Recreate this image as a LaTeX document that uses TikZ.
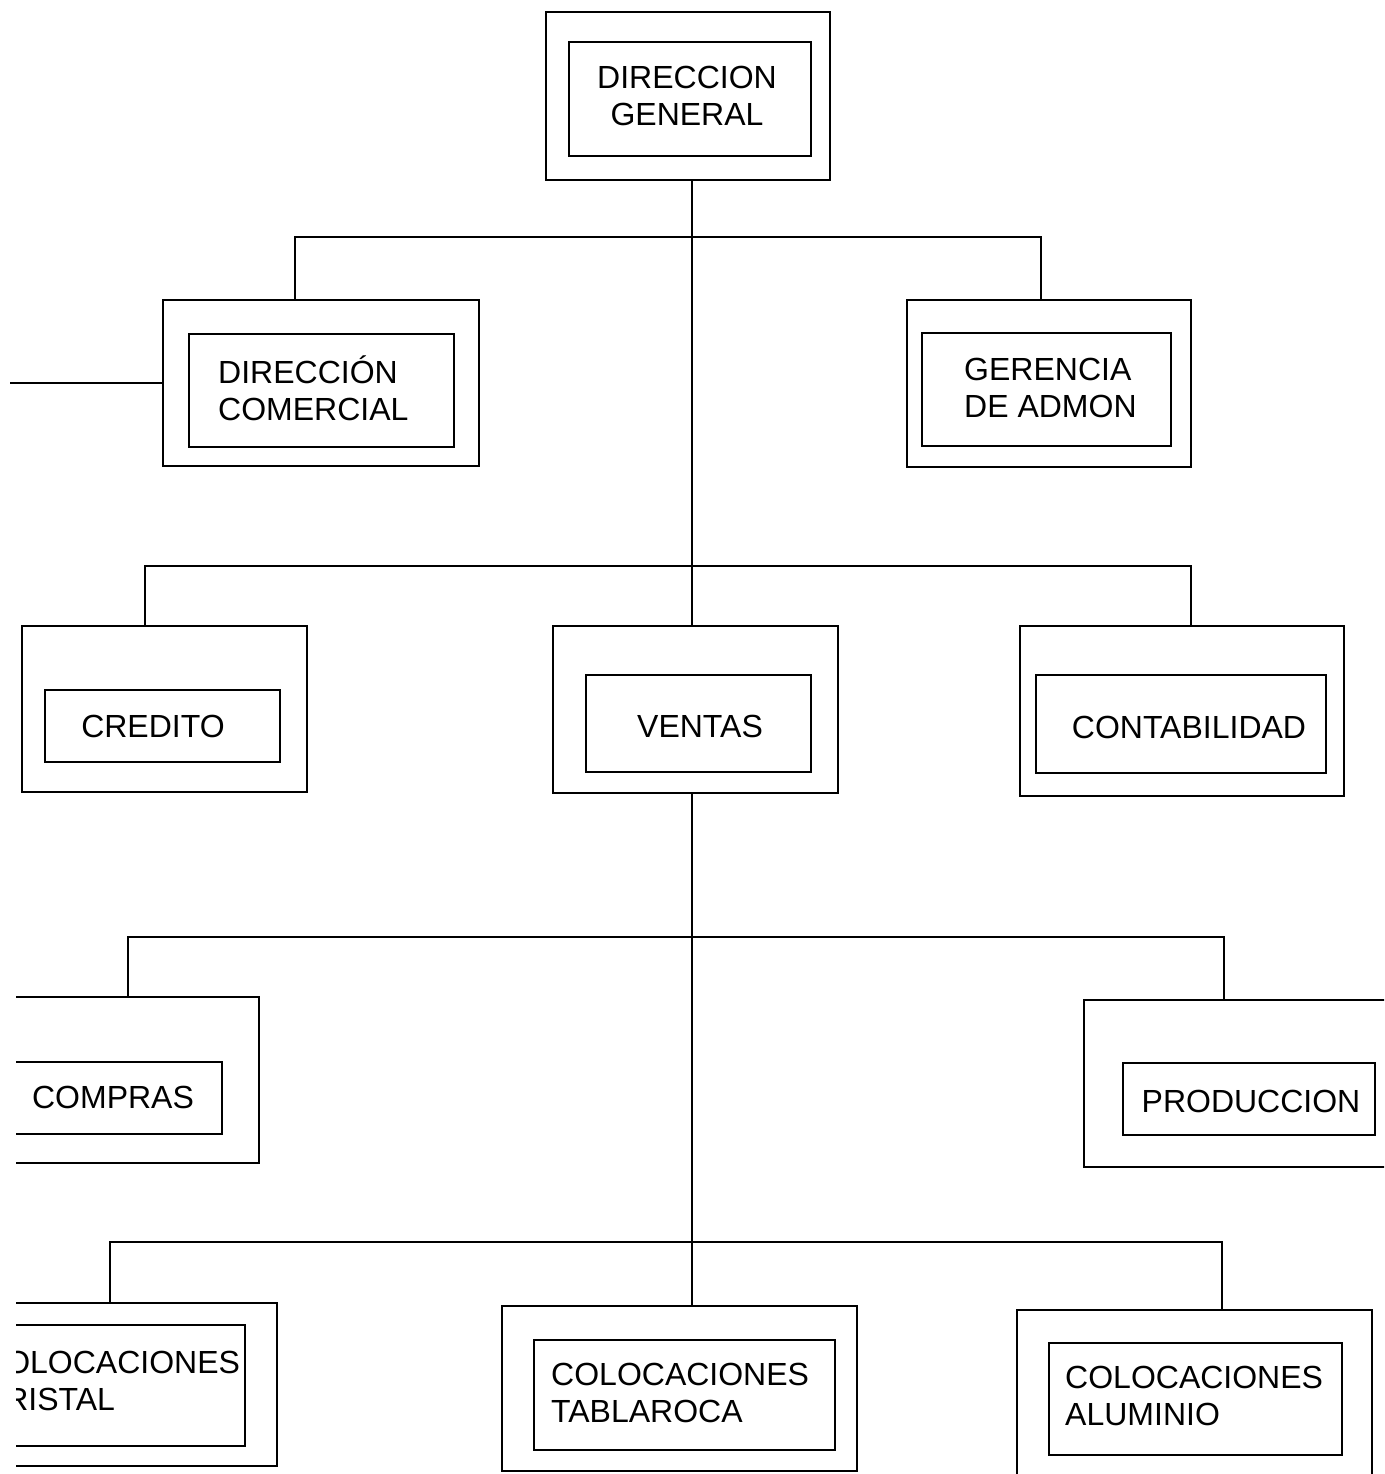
\documentclass[tikz,border=0pt]{standalone}
\usepackage{fontspec}
\setmainfont{Liberation Sans}
\begin{document}
\begin{tikzpicture}[x=1pt,y=-1pt,
  outer/.style={draw, line width=2.4pt, inner sep=0pt},
  inner/.style={draw, line width=2.2pt, inner sep=0pt},
  label/.style={inner sep=0pt, font=\fontsize{32}{37}\selectfont},
  link/.style={line width=2pt}]
\useasboundingbox (0,0) rectangle (1384,1474);
\clip (0,0) rectangle (1384,1474);

% top level
\node[outer, minimum width=284pt, minimum height=168pt] (dg) at (688,96) {};
\node[inner, minimum width=242pt, minimum height=114pt] (dgi) at (690,99) {};
\node[label, align=center] (dgt) at (687,96) {DIRECCION\\GENERAL};

% second level
\node[outer, minimum width=316pt, minimum height=166pt] (dc) at (321,383) {};
\node[inner, minimum width=265pt, minimum height=113pt] (dci) at (321.5,390.5) {};
\node[label, align=left, anchor=west] (dct) at (218,388) {DIRECCIÓN\\COMERCIAL};

\node[outer, minimum width=284pt, minimum height=167pt] (ga) at (1049,383.5) {};
\node[inner, minimum width=249pt, minimum height=113pt] (gai) at (1046.5,389.5) {};
\node[label, align=left, anchor=west] (gat) at (964,388) {GERENCIA\\DE ADMON};

% third level
\node[outer, minimum width=285pt, minimum height=166pt] (cre) at (164.5,709) {};
\node[inner, minimum width=235pt, minimum height=72pt] (crei) at (162.5,726) {};
\node[label] (cret) at (153,726) {CREDITO};

\node[outer, minimum width=285pt, minimum height=167pt] (ven) at (695.5,709.5) {};
\node[inner, minimum width=225pt, minimum height=97pt] (veni) at (698.5,723.5) {};
\node[label] (vent) at (700,726) {VENTAS};

\node[outer, minimum width=324pt, minimum height=170pt] (con) at (1182,711) {};
\node[inner, minimum width=290pt, minimum height=98pt] (coni) at (1181,724) {};
\node[label] (cont) at (1189,727) {CONTABILIDAD};

% fourth level
\begin{scope}
\clip (16,900) rectangle (1384,1474);
\node[outer, minimum width=279pt, minimum height=166pt] (com) at (119.5,1080) {};
\node[inner, minimum width=262pt, minimum height=72pt] (comi) at (91,1098) {};
\node[label] (comt) at (113,1097) {COMPRAS};
\end{scope}

\node[outer, minimum width=316pt, minimum height=167pt] (pro) at (1242,1083.5) {};
\node[inner, minimum width=252pt, minimum height=72pt] (proi) at (1249,1099) {};
\node[label] (prot) at (1251,1101) {PRODUCCION};

% fifth level
\begin{scope}
\clip (16,1200) rectangle (1384,1474);
\node[outer, minimum width=297pt, minimum height=163pt] (cc) at (128.5,1384.5) {};
\node[inner, minimum width=265pt, minimum height=121pt] (cci) at (112.5,1385.5) {};
\node[label, align=left, anchor=west] (cct) at (-18,1381) {COLOCACIONES\\CRISTAL};
\end{scope}

\node[outer, minimum width=355pt, minimum height=165pt] (tab) at (679.5,1388.5) {};
\node[inner, minimum width=301pt, minimum height=110pt] (tabi) at (684.5,1395) {};
\node[label, align=left, anchor=west] (tabt) at (551,1393) {COLOCACIONES\\TABLAROCA};

\node[outer, minimum width=355pt, minimum height=190pt] (alu) at (1194.5,1405) {};
\node[inner, minimum width=293pt, minimum height=112pt] (alui) at (1195.5,1399) {};
\node[label, align=left, anchor=west] (alut) at (1065,1396) {COLOCACIONES\\ALUMINIO};

% trunk
\coordinate (tr) at (692,0);
\draw[link] (tr |- dg.south) -- (tr |- ven.north);
\draw[link] (tr |- ven.south) -- (tr |- tab.north);

% branches
\draw[link] ([xshift=-26pt]dc.north) -- ++(0,-62) -| ([xshift=-8pt]ga.north);
\draw[link] ([xshift=-19.5pt]cre.north) -- ++(0,-59) -| ([xshift=9pt]con.north);
\draw[link] ([xshift=8.5pt]com.north) -- ++(0,-59) -| ([xshift=-18pt]pro.north);
\draw[link] ([xshift=-18.5pt]cc.north) -- ++(0,-60) -| ([xshift=27.5pt]alu.north);
\coordinate (lt) at (10,383);
\draw[link] (dc.west) -- (lt);
\end{tikzpicture}
\end{document}
